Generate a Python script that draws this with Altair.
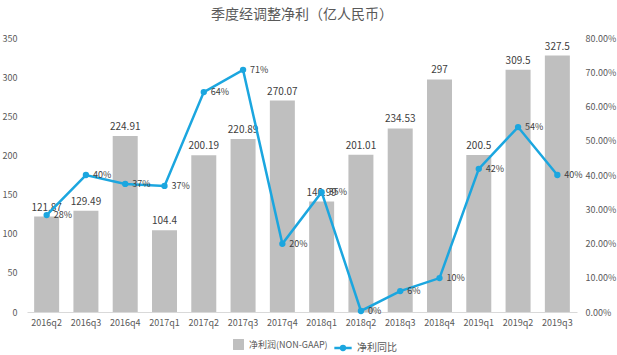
import altair as alt
import pandas as pd

quarters = ["2016q2", "2016q3", "2016q4", "2017q1", "2017q2", "2017q3", "2017q4",
            "2018q1", "2018q2", "2018q3", "2018q4", "2019q1", "2019q2", "2019q3"]
profit = [121.87, 129.49, 224.91, 104.4, 200.19, 220.89, 270.07,
          140.99, 201.01, 234.53, 297, 200.5, 309.5, 327.5]
yoy = [0.283, 0.40, 0.374, 0.368, 0.642, 0.707, 0.199,
       0.35, 0.003, 0.061, 0.099, 0.418, 0.54, 0.40]

bar_name = "净利润(NON-GAAP)"
line_name = "净利同比"

df = pd.DataFrame({"q": quarters, "profit": profit, "yoy": yoy})
df["bar_s"] = bar_name
df["line_s"] = line_name

FONT = "Noto Sans CJK SC"
TXT = "#595959"

x = alt.X("q:N", sort=quarters, title=None,
          axis=alt.Axis(labelAngle=0, labelFontSize=9, labelColor=TXT, ticks=False,
                        domainColor="#D9D9D9", labelPadding=6, labelFont=FONT),
          scale=alt.Scale(paddingInner=0.36, paddingOuter=0.18))

y_left = alt.Y("profit:Q", title=None, scale=alt.Scale(domain=[0, 350]),
               axis=alt.Axis(orient="left", values=list(range(0, 351, 50)), grid=False,
                             domain=False, ticks=False, labelFontSize=9, labelColor=TXT,
                             labelPadding=10, labelFont=FONT, labelOverlap=False))
y_right = alt.Y("yoy:Q", title=None, scale=alt.Scale(domain=[0, 0.8]),
                axis=alt.Axis(orient="right", format=".2%", values=[i / 10 for i in range(9)],
                              grid=False, domain=False, ticks=False, labelFontSize=9,
                              labelColor=TXT, labelPadding=8, labelFont=FONT,
                              labelOverlap=False))

base = alt.Chart(df)

bars = base.mark_bar(size=25).encode(
    x=x,
    y=y_left,
    fill=alt.Fill("bar_s:N", title=None,
                  scale=alt.Scale(domain=[bar_name], range=["#BFBFBF"]),
                  legend=alt.Legend(orient="none", legendX=205, legendY=300,
                                    symbolType="square", symbolSize=120,
                                    labelFontSize=9, labelColor=TXT, labelFont=FONT)),
)
bar_text = base.mark_text(dy=-9, fontSize=10, color="#404040", font=FONT).encode(
    x=x,
    y=y_left,
    text=alt.Text("profit:Q"),
)
left = alt.layer(bars, bar_text)

line = base.mark_line(strokeWidth=2.5).encode(
    x=x,
    y=y_right,
    stroke=alt.Stroke("line_s:N", title=None,
                      scale=alt.Scale(domain=[line_name], range=["#1BA6DF"]),
                      legend=alt.Legend(orient="none", legendX=306, legendY=300,
                                        symbolType="M-1,0L1,0M-0.22,0A0.22,0.22,0,1,1,0.22,0A0.22,0.22,0,1,1,-0.22,0",
                                        symbolStrokeWidth=2.5, symbolSize=300,
                                        labelFontSize=10, labelColor=TXT, labelFont=FONT)),
)
points = base.mark_circle(size=40, color="#1BA6DF", opacity=1).encode(
    x=x,
    y=y_right,
)
line_text = base.mark_text(align="left", dx=7, fontSize=9, color="#404040", font=FONT).encode(
    x=x,
    y=y_right,
    text=alt.Text("yoy:Q", format=".0%"),
)
right = alt.layer(line, points, line_text)

chart = alt.layer(left, right).resolve_scale(y="independent").properties(
    width=550, height=274,
    title=alt.Title("季度经调整净利（亿人民币）", fontSize=14, fontWeight="normal",
                    color=TXT, font=FONT, offset=12),
    padding={"left": 27, "top": 38, "right": 40, "bottom": 43},
    autosize=alt.AutoSizeParams(type="none"),
    background="white",
).configure_view(stroke=None)

chart.save("out.html", embed_options={"renderer": "svg", "actions": False})
